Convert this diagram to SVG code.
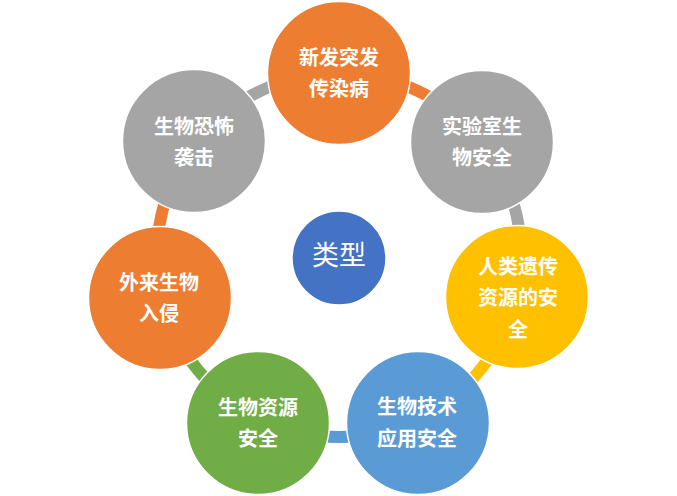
<svg xmlns="http://www.w3.org/2000/svg" width="677" height="496" viewBox="0 0 677 496">
<style>
.c{stroke:#fff;stroke-width:1.5}
.t{font-family:"Noto Sans CJK SC","Noto Sans",sans-serif;font-size:20px;font-weight:bold;fill:#fff;text-anchor:middle}
.m{font-family:"Noto Sans CJK SC","Noto Sans",sans-serif;font-size:27px;fill:#fff;text-anchor:middle}
.k{stroke-width:12;fill:none}
</style>
<rect width="677" height="496" fill="#fff"/>
<g id="connectors">
<path class="k" d="M339 73 A182 182 0 0 1 481.8 142.2" stroke="#ED7D31"/>
<path class="k" d="M481.8 142.2 A182 182 0 0 1 516.1 296.9" stroke="#A5A5A5"/>
<path class="k" d="M516.1 296.9 A182 182 0 0 1 416.5 419.7" stroke="#FFC000"/>
<path class="k" d="M416.5 419.7 A182 182 0 0 1 261.5 419.7" stroke="#5B9BD5"/>
<path class="k" d="M261.5 419.7 A182 182 0 0 1 162 297.5" stroke="#70AD47"/>
<path class="k" d="M162 297.5 A182 182 0 0 1 196 142.5" stroke="#ED7D31"/>
<path class="k" d="M196 142.5 A182 182 0 0 1 339 73" stroke="#A5A5A5"/>
</g>
<g id="n-top">
<circle class="c" cx="339" cy="73" r="71.5" fill="#ED7D31"/>
<text class="t" x="339" y="65">新发突发</text>
<text class="t" x="339" y="96">传染病</text>
</g>
<g id="n-lab">
<circle class="c" cx="482" cy="142" r="71.5" fill="#A5A5A5"/>
<text class="t" x="482" y="134">实验室生</text>
<text class="t" x="482" y="165">物安全</text>
</g>
<g id="n-gene">
<circle class="c" cx="517" cy="297" r="71.5" fill="#FFC000"/>
<text class="t" x="518" y="274">人类遗传</text>
<text class="t" x="518" y="305">资源的安</text>
<text class="t" x="518" y="337">全</text>
</g>
<g id="n-tech">
<circle class="c" cx="418" cy="423" r="71.5" fill="#5B9BD5"/>
<text class="t" x="417" y="414">生物技术</text>
<text class="t" x="417" y="446">应用安全</text>
</g>
<g id="n-res">
<circle class="c" cx="258" cy="423" r="71.5" fill="#70AD47"/>
<text class="t" x="258" y="415">生物资源</text>
<text class="t" x="258" y="446">安全</text>
</g>
<g id="n-alien">
<circle class="c" cx="160" cy="298" r="71.5" fill="#ED7D31"/>
<text class="t" x="159" y="290">外来生物</text>
<text class="t" x="159" y="321">入侵</text>
</g>
<g id="n-terror">
<circle class="c" cx="194" cy="141" r="71.5" fill="#A5A5A5"/>
<text class="t" x="194" y="134">生物恐怖</text>
<text class="t" x="194" y="165">袭击</text>
</g>
<g id="n-center">
<circle class="c" cx="339" cy="258" r="47" fill="#4472C4"/>
<text class="m" x="339" y="265">类型</text>
</g>
</svg>
